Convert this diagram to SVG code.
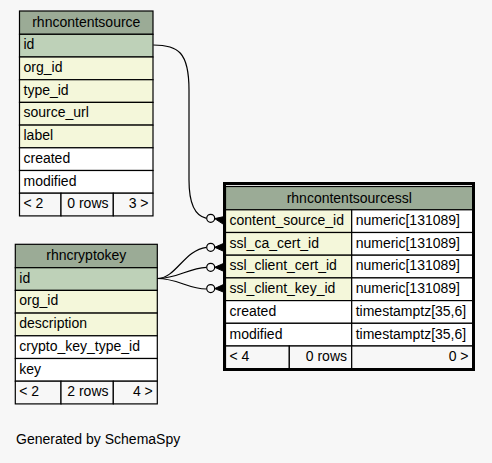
<svg xmlns="http://www.w3.org/2000/svg" width="492" height="463" viewBox="0 0 492 463">
<style>
text{font-family:"Liberation Sans",Arial,sans-serif;font-size:14px;fill:#000}
.c{stroke:#000;stroke-width:1.2}
.h{fill:#9bab96}
.pk{fill:#bed1b8}
.k{fill:#f4f7da}
.w{fill:#ffffff}
.f{fill:#f7f7f7}
.m{text-anchor:middle}
.e{text-anchor:end}
.edge{fill:none;stroke:#000;stroke-width:1.2}
.dot{fill:#f7f7f7;stroke:#000;stroke-width:1.2}
.crow{fill:#000;stroke:#000;stroke-width:1}
.brk{fill:none;stroke:#000;stroke-width:0.8}
</style>
<rect x="0" y="0" width="492" height="463" fill="#f7f7f7"/>

<g id="connectors">
<path class="edge" d="M153.3,45 C178,45 189,52 189,90 L189,180 C189,204 195,216 206.5,218.3"/>
<path class="edge" d="M157.3,278.5 C176,278.5 184,250 206.5,247.3"/>
<path class="edge" d="M157.3,278.5 C178,278.5 188,268 206.5,267.3"/>
<path class="edge" d="M157.3,278.5 C178,278.5 188,289 206.5,289"/>
<circle class="dot" cx="210.7" cy="218.3" r="4"/>
<polygon class="crow" points="214.7,218.6 224.5,216.5 224.5,225"/>
<circle class="dot" cx="210.7" cy="247.3" r="4"/>
<polygon class="crow" points="214.7,247.3 224.5,243 224.5,251.7"/>
<circle class="dot" cx="210.7" cy="267.3" r="4"/>
<polygon class="crow" points="214.7,267.3 224.5,263 224.5,271.7"/>
<circle class="dot" cx="210.7" cy="288.6" r="4"/>
<polygon class="crow" points="214.7,288.6 224.5,284 224.5,292.5"/>
<path class="brk" d="M229.5,214.5 Q226.5,215 227.5,219 Q228,222 226,223"/>
<path class="brk" d="M229.5,237 Q226.5,237.5 227.5,241.5 Q228,244.5 226,245.5"/>
<path class="brk" d="M229.5,260 Q226.5,260.5 227.5,264.5 Q228,267.5 226,268.5"/>
<path class="brk" d="M229.5,282.5 Q226.5,283 227.5,287 Q228,290 226,291"/>
</g>

<g id="rhncontentsource">
<rect class="c h" x="19.5" y="11" width="133.5" height="23.3"/>
<rect class="c pk" x="19.5" y="34.3" width="133.5" height="22.7"/>
<rect class="c k" x="19.5" y="57" width="133.5" height="22.7"/>
<rect class="c k" x="19.5" y="79.7" width="133.5" height="22.7"/>
<rect class="c k" x="19.5" y="102.4" width="133.5" height="22.7"/>
<rect class="c k" x="19.5" y="125.1" width="133.5" height="22.7"/>
<rect class="c w" x="19.5" y="147.8" width="133.5" height="22.7"/>
<rect class="c w" x="19.5" y="170.5" width="133.5" height="22.7"/>
<rect class="c f" x="19.5" y="193.2" width="41.5" height="22.7"/>
<rect class="c f" x="61" y="193.2" width="52.3" height="22.7"/>
<rect class="c f" x="113.3" y="193.2" width="39.7" height="22.7"/>
<text class="m" x="86.3" y="27">rhncontentsource</text>
<text x="23.5" y="49.3">id</text>
<text x="23.5" y="72">org_id</text>
<text x="23.5" y="94.7">type_id</text>
<text x="23.5" y="117.4">source_url</text>
<text x="23.5" y="140.1">label</text>
<text x="23.5" y="162.8">created</text>
<text x="23.5" y="185.5">modified</text>
<text x="23.5" y="208.2">&lt; 2</text>
<text class="e" x="108.5" y="208.2">0 rows</text>
<text class="e" x="148.5" y="208.2">3 &gt;</text>
</g>

<g id="rhncryptokey">
<rect class="c h" x="15.3" y="244.3" width="142" height="23.4"/>
<rect class="c pk" x="15.3" y="267.7" width="142" height="22.7"/>
<rect class="c k" x="15.3" y="290.4" width="142" height="22.7"/>
<rect class="c k" x="15.3" y="313.1" width="142" height="22.7"/>
<rect class="c w" x="15.3" y="335.8" width="142" height="22.7"/>
<rect class="c w" x="15.3" y="358.5" width="142" height="22.7"/>
<rect class="c f" x="15.3" y="381.2" width="45.7" height="22.7"/>
<rect class="c f" x="61" y="381.2" width="52.3" height="22.7"/>
<rect class="c f" x="113.3" y="381.2" width="44" height="22.7"/>
<text class="m" x="86.3" y="260.3">rhncryptokey</text>
<text x="19.3" y="282.7">id</text>
<text x="19.3" y="305.4">org_id</text>
<text x="19.3" y="328.1">description</text>
<text x="19.3" y="350.8">crypto_key_type_id</text>
<text x="19.3" y="373.5">key</text>
<text x="19.3" y="396.2">&lt; 2</text>
<text class="e" x="108.5" y="396.2">2 rows</text>
<text class="e" x="152.8" y="396.2">4 &gt;</text>
</g>

<g id="rhncontentsourcessl">
<rect class="c h" x="225.5" y="186.5" width="247.5" height="23.3"/>
<rect class="c k" x="225.5" y="209.8" width="126.2" height="22.7"/>
<rect class="c w" x="351.7" y="209.8" width="121.3" height="22.7"/>
<rect class="c k" x="225.5" y="232.5" width="126.2" height="22.7"/>
<rect class="c w" x="351.7" y="232.5" width="121.3" height="22.7"/>
<rect class="c k" x="225.5" y="255.2" width="126.2" height="22.7"/>
<rect class="c w" x="351.7" y="255.2" width="121.3" height="22.7"/>
<rect class="c k" x="225.5" y="277.9" width="126.2" height="22.7"/>
<rect class="c w" x="351.7" y="277.9" width="121.3" height="22.7"/>
<rect class="c w" x="225.5" y="300.6" width="126.2" height="22.7"/>
<rect class="c w" x="351.7" y="300.6" width="121.3" height="22.7"/>
<rect class="c w" x="225.5" y="323.3" width="126.2" height="22.7"/>
<rect class="c w" x="351.7" y="323.3" width="121.3" height="22.7"/>
<rect class="c f" x="225.5" y="346" width="63.8" height="22.7"/>
<rect class="c f" x="289.3" y="346" width="62.4" height="22.7"/>
<rect class="c f" x="351.7" y="346" width="121.3" height="22.7"/>
<rect x="224.5" y="183.5" width="249" height="186" fill="none" stroke="#000" stroke-width="3"/>
<text class="m" x="349.3" y="203">rhncontentsourcessl</text>
<text x="229.5" y="225">content_source_id</text>
<text x="229.5" y="247.7">ssl_ca_cert_id</text>
<text x="229.5" y="270.4">ssl_client_cert_id</text>
<text x="229.5" y="293.1">ssl_client_key_id</text>
<text x="229.5" y="315.8">created</text>
<text x="229.5" y="338.5">modified</text>
<text x="229.5" y="361.2">&lt; 4</text>
<text x="355.7" y="225">numeric[131089]</text>
<text x="355.7" y="247.7">numeric[131089]</text>
<text x="355.7" y="270.4">numeric[131089]</text>
<text x="355.7" y="293.1">numeric[131089]</text>
<text x="355.7" y="315.8">timestamptz[35,6]</text>
<text x="355.7" y="338.5">timestamptz[35,6]</text>
<text class="e" x="347" y="361.2">0 rows</text>
<text class="e" x="468.5" y="361.2">0 &gt;</text>
</g>

<text x="16" y="444">Generated by SchemaSpy</text>
</svg>
